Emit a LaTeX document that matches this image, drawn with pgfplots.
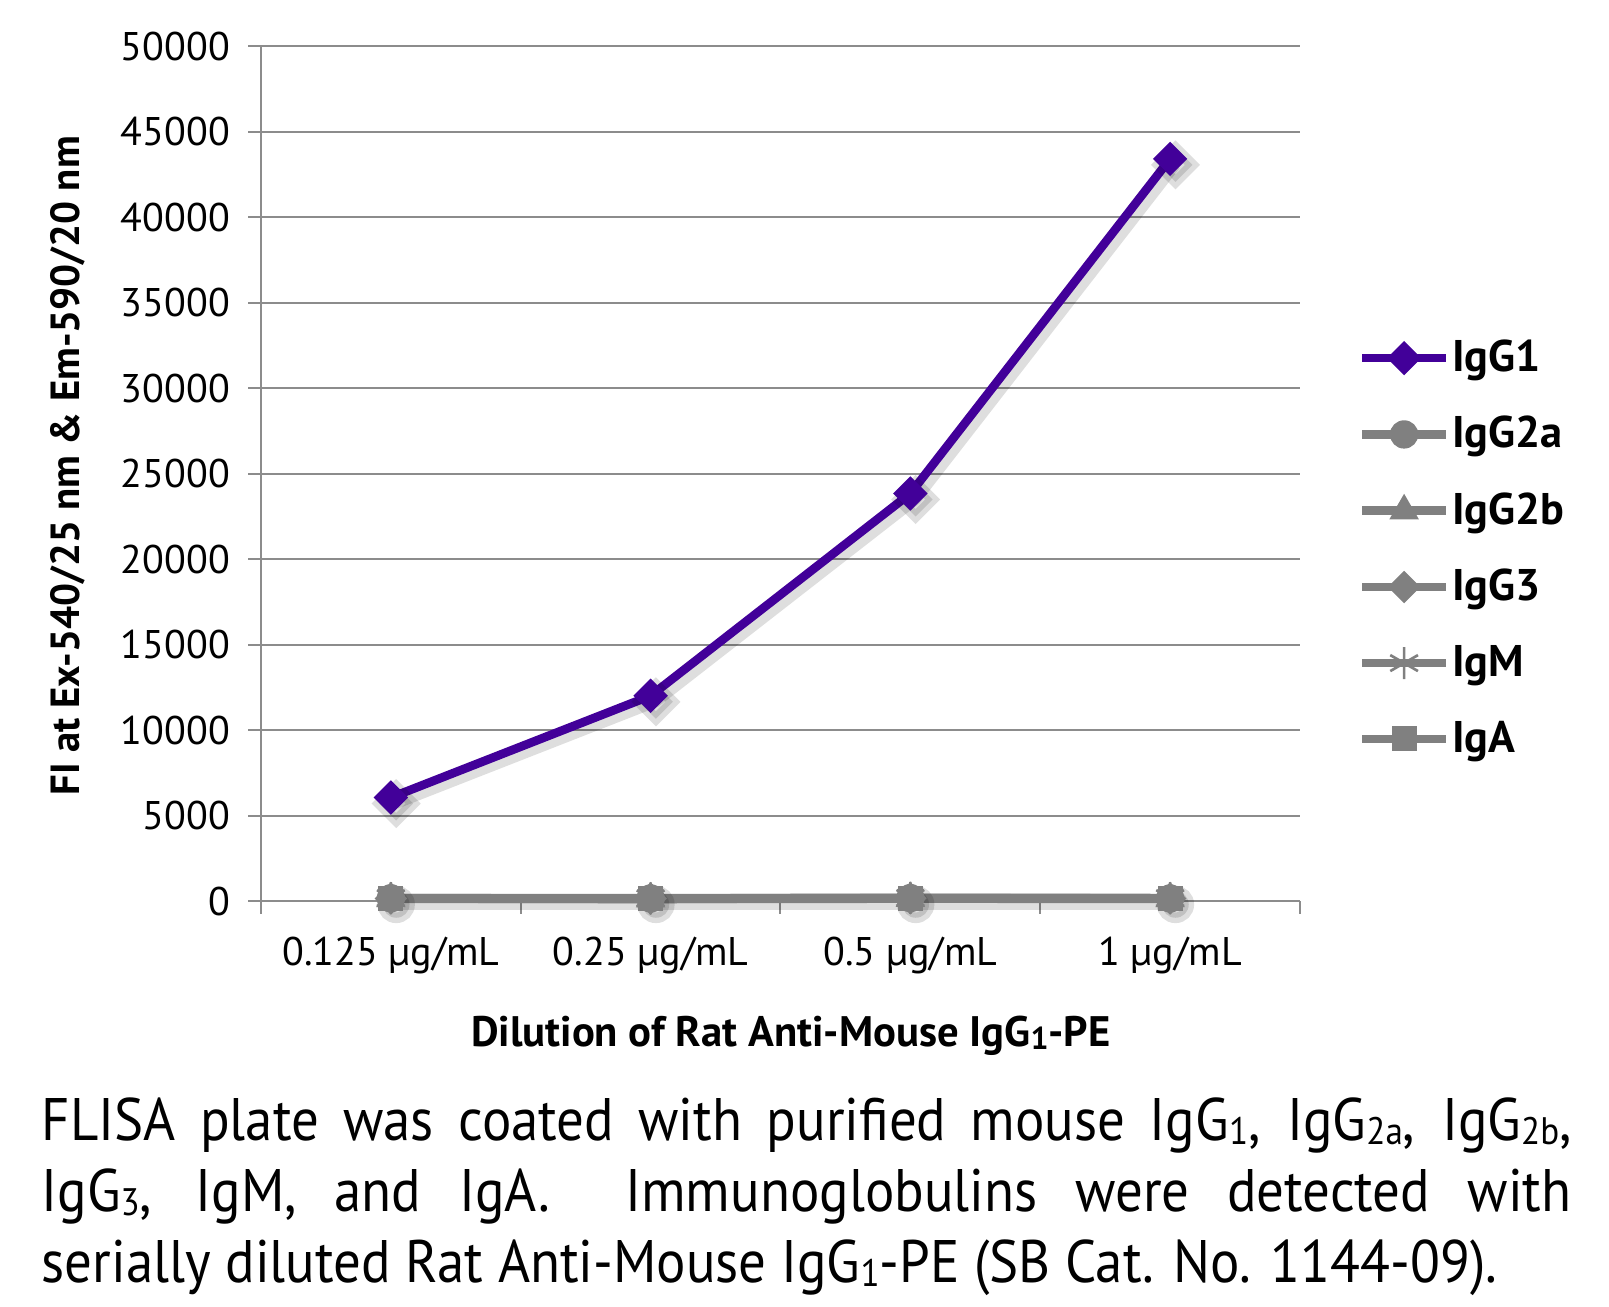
\documentclass[border=0pt]{standalone}
\usepackage{fontspec}
\setmainfont{PT Sans}
\newfontfamily\capfont[FakeStretch=0.915]{PT Sans}
\usepackage{pgfplots}
\pgfplotsset{compat=1.18}
\definecolor{igpurple}{HTML}{420099}
\definecolor{iggray}{HTML}{808080}
\definecolor{gridgray}{HTML}{8C8C8C}
\newcommand{\sbs}[1]{\raisebox{-1.2pt}{\fontsize{11.5}{11.5}\selectfont #1}}
\newcommand{\sbx}[1]{\raisebox{-0.8pt}{\fontsize{9.5}{9.5}\selectfont #1}}
\begin{document}
\begin{tikzpicture}
\path[use as bounding box] (0,0) rectangle (482.7pt,391.8pt);
\begin{axis}[
  scale only axis, width=311.7pt, height=256.5pt,
  at={(78.3pt,121.5pt)}, anchor=south west,
  xmin=-0.5, xmax=3.5, ymin=0, ymax=50000,
  clip=false,
  axis lines*=left,
  axis line style={draw=gridgray, line width=0.6pt},
  xtick={-0.5,0.5,1.5,2.5,3.5},
  xticklabels={0.125 µg/mL, 0.25 µg/mL, 0.5 µg/mL, 1 µg/mL},
  x tick label as interval,
  ytick={0,5000,...,50000},
  ymajorgrids, grid style={draw=gridgray, line width=0.6pt},
  tick style={draw=gridgray, line width=0.6pt},
  tick align=outside,
  major tick length=3.8pt,
  scaled y ticks=false,
  /pgf/number format/1000 sep={},
  /pgf/number format/assume math mode=true,
  tick label style={font=\fontsize{12}{13}\selectfont},
  yticklabel style={xshift=-2pt},
  xticklabel style={yshift=-3.5pt},
  xlabel={Dilution of Rat Anti-Mouse IgG\sbx{1}-PE},
  xlabel style={at={(axis description cs:0.51,-0.134)}, anchor=north, inner sep=0pt, font=\fontsize{12.8}{14}\selectfont\bfseries},
  ylabel={FI at Ex-540/25 nm \& Em-590/20 nm},
  ylabel style={at={(axis description cs:-0.203,0.509)}, anchor=north, rotate=0, inner sep=0pt, font=\fontsize{12.2}{14}\selectfont\bfseries},
  legend style={at={(axis description cs:1.055,0.665)}, anchor=north west, draw=none, fill=none, inner sep=0pt,
    font=\fontsize{13.3}{15}\selectfont\bfseries, row sep=7.9pt, cells={anchor=west},
    nodes={inner xsep=0.5pt, inner ysep=2pt}},
  legend image code/.code={\draw[mark repeat=2,mark phase=2,#1] plot coordinates {(0pt,0pt)(12.6pt,0pt)(25.2pt,0pt)};},
]
% shadows
\addplot[forget plot, draw=black, opacity=0.13, line width=3.2pt, xshift=1.6pt, yshift=-1.8pt,
  mark=square*, mark size=3.6pt, mark options={rotate=45, fill=black, draw=black, opacity=0.13}]
  coordinates {(0,6050) (1,12000) (2,23830) (3,43400)};
\addplot[forget plot, draw=black, opacity=0.13, line width=3.2pt, xshift=1.6pt, yshift=-1.8pt,
  mark=*, mark size=4pt, mark options={fill=black, draw=black, opacity=0.13}]
  coordinates {(0,150) (1,150) (2,150) (3,150)};
% data
\addplot[igpurple, line width=2.6pt, mark=square*, mark size=3.4pt, mark options={rotate=45, fill=igpurple, draw=igpurple, line width=0.5pt}]
  coordinates {(0,6050) (1,12000) (2,23830) (3,43400)};
\addlegendentry{IgG1}
\addplot[iggray, line width=2.6pt, mark=*, mark size=4pt, mark options={fill=iggray, draw=iggray, line width=0.5pt}]
  coordinates {(0,160) (1,150) (2,170) (3,150)};
\addlegendentry{IgG2a}
\addplot[iggray, line width=2.6pt, mark=triangle*, mark size=4.6pt, mark options={fill=iggray, draw=iggray, line width=0.5pt}]
  coordinates {(0,140) (1,130) (2,150) (3,140)};
\addlegendentry{IgG2b}
\addplot[iggray, line width=2.6pt, mark=square*, mark size=3.2pt, mark options={rotate=45, fill=iggray, draw=iggray, line width=0.5pt}]
  coordinates {(0,150) (1,140) (2,160) (3,150)};
\addlegendentry{IgG3}
\addplot[iggray, line width=2.6pt, mark=asterisk, mark size=4.8pt, mark options={draw=iggray, line width=0.8pt}]
  coordinates {(0,170) (1,160) (2,180) (3,170)};
\addlegendentry{IgM}
\addplot[iggray, line width=2.6pt, mark=square*, mark size=3.5pt, mark options={fill=iggray, draw=iggray, line width=0.5pt}]
  coordinates {(0,130) (1,120) (2,140) (3,130)};
\addlegendentry{IgA}
\end{axis}
\node[anchor=north west, inner sep=0pt, text width=459pt, align=justify,
  font=\capfont\fontsize{18}{21.2}\selectfont] at (12.3pt,62.6pt)
  {FLISA plate was coated with purified mouse IgG\sbs{1}, IgG\sbs{2a}, IgG\sbs{2b},\linebreak IgG\sbs{3}, IgM, and IgA.\ \ Immunoglobulins were detected with\linebreak serially diluted Rat Anti-Mouse IgG\sbs{1}-PE (SB Cat. No. 1144-09).};
\end{tikzpicture}
\end{document}
